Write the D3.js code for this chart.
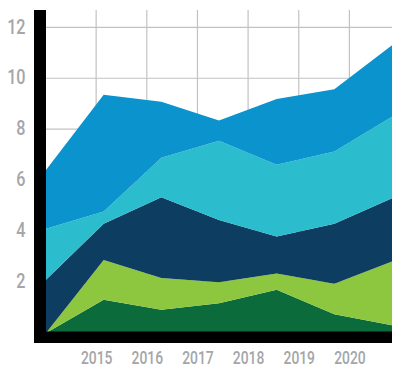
<!DOCTYPE html>
<html>
<head>
<meta charset="utf-8">
<script src="https://cdn.jsdelivr.net/npm/d3@7"></script>
<style>
  html, body { margin: 0; padding: 0; background: #fff; }
  svg { display: block; }
  .lbl text { font-family: Roboto, "Liberation Sans", sans-serif; fill: #a4a6a9; font-weight: 500; }
</style>
</head>
<body>
<svg id="chart" width="405" height="375"></svg>
<script>
// ---- data ----
const samples = ["p0", "p1", "p2", "p3", "p4", "p5", "p6"];
const seriesNames = ["darkGreen", "lightGreen", "navy", "cyan", "blue"];
const darkGreen  = [0.00, 1.31, 0.91, 1.17, 1.70, 0.74, 0.30];
const lightGreen = [0.00, 1.56, 1.25, 0.82, 0.64, 1.19, 2.51];
const navy       = [2.09, 1.42, 3.17, 2.45, 1.45, 2.36, 2.48];
const cyan       = [2.00, 0.48, 1.55, 3.11, 2.81, 2.83, 3.20];
const blue       = [2.31, 4.58, 2.20, 0.79, 2.59, 2.45, 2.81];
const yearTicks  = [2015, 2016, 2017, 2018, 2019, 2020];
const yTicks     = [2, 4, 6, 8, 10, 12];
const colors     = ["#0b6b3a", "#8dc63f", "#0e3d62", "#2bbdcd", "#0a93cd"];

const seriesValues = [darkGreen, lightGreen, navy, cyan, blue];
const table = samples.map((s, i) => {
  const row = { sample: s };
  seriesNames.forEach((n, k) => row[n] = seriesValues[k][i]);
  return row;
});

// ---- layout ----
const svg = d3.select("#chart");
const pLeft = 46, pRight = 392, pTop = 10, pBottom = 333;

const x = d3.scalePoint().domain(samples).range([pLeft, pRight]).padding(0);
const xYear = d3.scaleLinear().domain([2014, 2021]).range([45.5, 45.5 + 7 * 50.65]);
const y = d3.scaleLinear().domain([0, 12]).range([pBottom, 27.3]);

// grid
const grid = svg.append("g").attr("stroke", "#c2c2c2").attr("stroke-width", 1.2);
grid.selectAll("line.h").data(yTicks).enter().append("line")
  .attr("x1", pLeft).attr("x2", pRight)
  .attr("y1", d => y(d)).attr("y2", d => y(d));
grid.selectAll("line.v").data(yearTicks).enter().append("line")
  .attr("x1", d => xYear(d)).attr("x2", d => xYear(d))
  .attr("y1", pTop).attr("y2", pBottom);

// stacked areas
const stack = d3.stack().keys(seriesNames);
const layers = stack(table);
const area = d3.area()
  .x(d => x(d.data.sample))
  .y0(d => y(d[0]))
  .y1(d => y(d[1]));
svg.append("g").selectAll("path").data(layers).enter().append("path")
  .attr("d", area)
  .attr("fill", (d, i) => colors[i]);

// black axis bars
svg.append("rect").attr("x", 34).attr("y", pTop).attr("width", pLeft - 34).attr("height", 343 - pTop).attr("fill", "#000");
svg.append("rect").attr("x", 34).attr("y", 331.5).attr("width", pRight - 34).attr("height", 343 - 331.5).attr("fill", "#000");

// y labels
const yAxis = d3.axisLeft(y).tickValues(yTicks).tickSize(0).tickPadding(0).tickFormat(d3.format("d"));
const gy = svg.append("g").attr("class", "lbl").attr("transform", "translate(25.5,-1)").call(yAxis);
gy.select(".domain").remove();
gy.selectAll("text").attr("font-size", 21).attr("transform", "scale(0.77,1)");

// x labels
const xAxis = d3.axisBottom(xYear).tickValues(yearTicks).tickSize(0).tickPadding(0).tickFormat(d3.format("d"));
const gx = svg.append("g").attr("class", "lbl").attr("transform", "translate(0,351)").call(xAxis);
gx.select(".domain").remove();
gx.selectAll("text").attr("font-size", 18).attr("transform", "scale(0.77,1)");
</script>
</body>
</html>
